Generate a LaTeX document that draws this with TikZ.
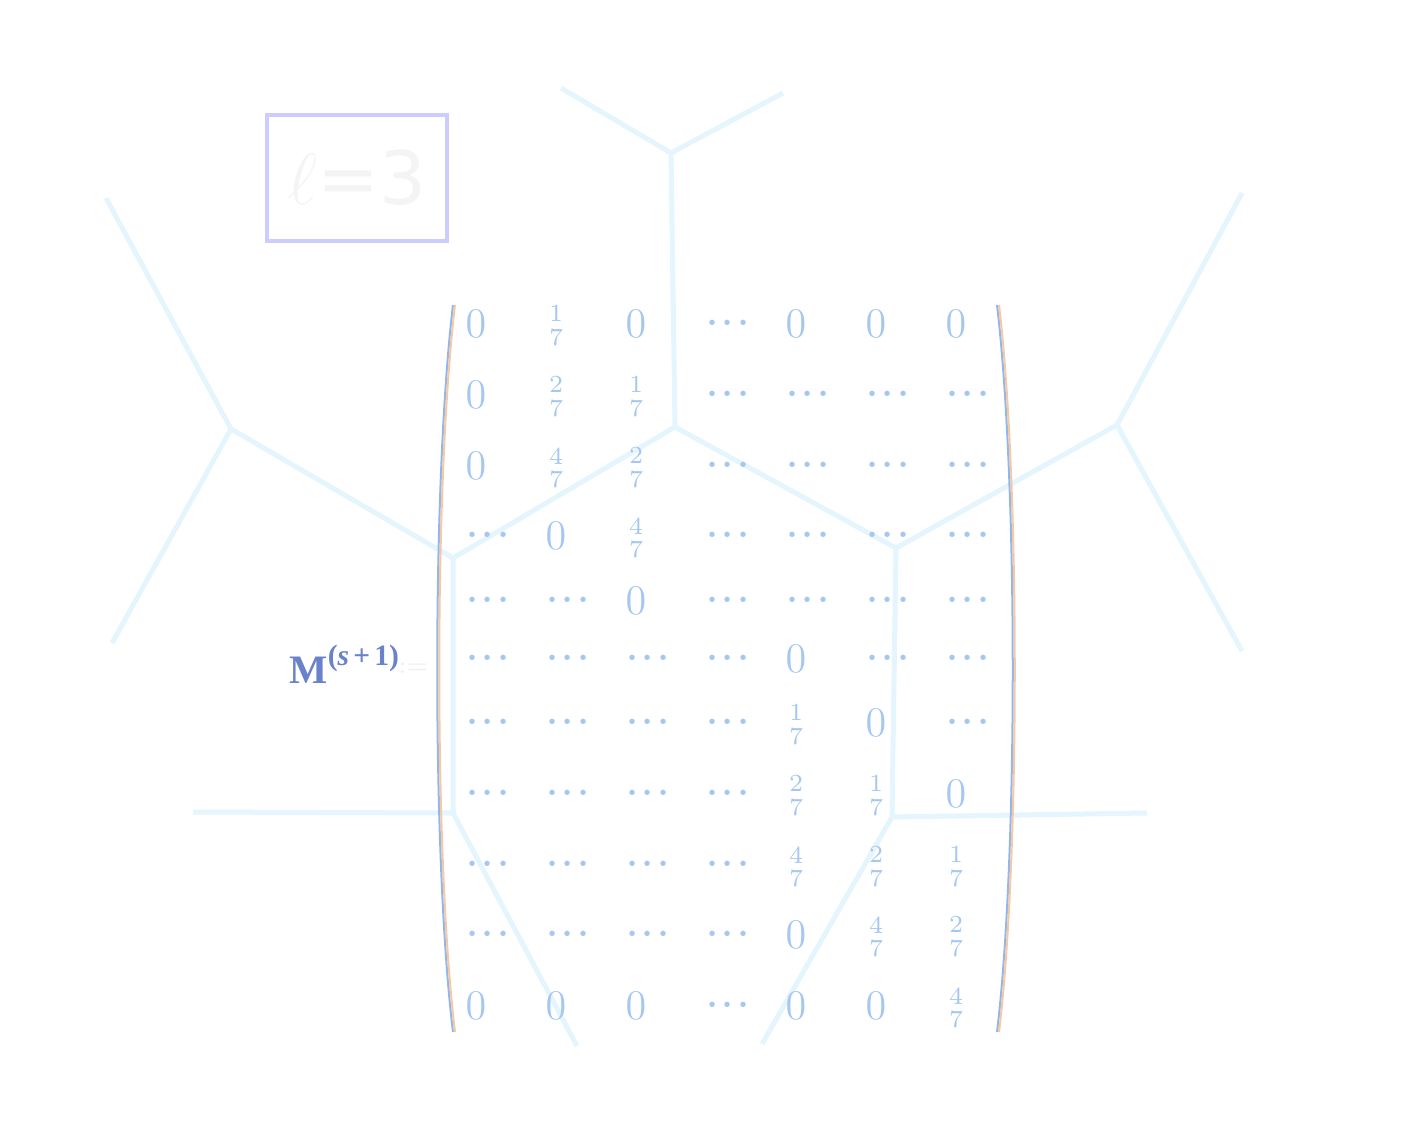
\documentclass[tikz,border=0pt]{standalone}
\usepackage{amsmath}
\usepackage{fontspec}
\newfontfamily\dejavu{DejaVu Sans}
\newfontfamily\tnr{Liberation Serif}
\definecolor{hexline}{HTML}{E4F5FD}
\definecolor{entry}{HTML}{A6C8F0}
\definecolor{parblue}{HTML}{8FB6F0}
\definecolor{parorange}{HTML}{F7C9A0}
\definecolor{mcol}{HTML}{6A82CB}
\definecolor{boxcol}{HTML}{CCCCFF}
\definecolor{elltext}{HTML}{F4F4F4}
\definecolor{assigncol}{HTML}{EEEEEE}
\newcommand\frs[1]{\vcenter{\hbox{\fontsize{7}{6.6}\selectfont\begin{tabular}{@{}c@{}}#1\\7\end{tabular}}}}
\newcommand\dts{\hbox{\fontsize{14}{14}\selectfont$\mathord{\cdot}\kern0.4pt\mathord{\cdot}\kern0.4pt\mathord{\cdot}$}}
\newcommand\mlab{{\tnr\bfseries M\raisebox{0.95ex}{\fontsize{8.4}{10}\selectfont(\textit{s}\kern1.2pt+\kern1.2pt1)}}}
\tikzset{
  hexedge/.style={draw=hexline, line width=0.5mm, line join=round},
  entrynode/.style={text=entry, inner sep=0pt, font={\fontsize{11.5}{14}\selectfont}},
  parenblue/.style={draw=parblue, line width=0.2mm},
  parenorange/.style={draw=parorange, line width=0.2mm},
}
\begin{document}
\begin{tikzpicture}[x=0.01cm,y=-0.01cm]
\useasboundingbox (0,0) rectangle (1418,1133);
% hexagonal cell lines
\coordinate (t1) at (561,88);
\coordinate (t2) at (783,93);
\coordinate (tc) at (671,153);
\coordinate (cc) at (675,427);
\coordinate (l1) at (106,198);
\coordinate (l2) at (112,643);
\coordinate (lc) at (231,429);
\coordinate (ml) at (453,558);
\coordinate (mr) at (896,548);
\coordinate (r1) at (1242,193);
\coordinate (r2) at (1242,651);
\coordinate (rc) at (1117,425);
\coordinate (bl) at (453,813);
\coordinate (br) at (892,817);
\coordinate (bl1) at (193,812);
\coordinate (bl2) at (577,1046);
\coordinate (br1) at (1147,813);
\coordinate (br2) at (762,1044);
\draw[hexedge] (t1) -- (tc) -- (t2);
\draw[hexedge] (tc) -- (cc);
\draw[hexedge] (ml) -- (cc) -- (mr);
\draw[hexedge] (l1) -- (lc) -- (l2);
\draw[hexedge] (lc) -- (ml) -- (bl);
\draw[hexedge] (r1) -- (rc) -- (r2);
\draw[hexedge] (rc) -- (mr) -- (br);
\draw[hexedge] (bl1) -- (bl) -- (bl2);
\draw[hexedge] (br1) -- (br) -- (br2);
% box with l=3
\node[draw=boxcol, line width=0.4mm, minimum width=1.8cm, minimum height=1.26cm, inner sep=0pt,
      text=elltext, font={\dejavu\fontsize{21}{26}\selectfont}] (lbox) at (357,178) {$\ell$=3};
% label
\node[text=mcol, inner sep=0pt, anchor=west, font={\fontsize{11.5}{14}\selectfont}] (mlabel) at (289,664) {\mlab};
\node[text=assigncol, inner sep=0pt, anchor=west, font={\fontsize{7}{9}\selectfont}] (assign) at (398,668) {$:=$};
% parentheses
\draw[parenblue] (453,305) .. controls (432,480) and (432,860) .. (453,1032);
\draw[parenorange] (455,305) .. controls (434,480) and (434,860) .. (455,1032);
\draw[parenblue] (997,305) .. controls (1018,480) and (1018,860) .. (997,1032);
\draw[parenorange] (999,305) .. controls (1020,480) and (1020,860) .. (999,1032);
% entries
\def\colxs{{476,556,636,716,796,876,956}}
\def\dd{D}
\def\ff{F}
\newcommand\mrow[3]{%
  \foreach \e/\v [count=\c] in {#3}{%
    \pgfmathsetmacro\xx{\colxs[\c-1]}%
    \ifx\e\dd
      \node[entrynode] (m-#1-\c) at (\xx+12,#2+1) {\dts};
    \else\ifx\e\ff
      \node[entrynode] (m-#1-\c) at (\xx,#2+6) {$\frs{\v}$};
    \else
      \node[entrynode] (m-#1-\c) at (\xx,#2+1) {$0$};
    \fi\fi
  }}
\mrow{1}{323}{Z/0,F/1,Z/0,D/0,Z/0,Z/0,Z/0}
\mrow{2}{394}{Z/0,F/2,F/1,D/0,D/0,D/0,D/0}
\mrow{3}{465}{Z/0,F/4,F/2,D/0,D/0,D/0,D/0}
\mrow{4}{535}{D/0,Z/0,F/4,D/0,D/0,D/0,D/0}
\mrow{5}{600}{D/0,D/0,Z/0,D/0,D/0,D/0,D/0}
\mrow{6}{658}{D/0,D/0,D/0,D/0,Z/0,D/0,D/0}
\mrow{7}{722}{D/0,D/0,D/0,D/0,F/1,Z/0,D/0}
\mrow{8}{793}{D/0,D/0,D/0,D/0,F/2,F/1,Z/0}
\mrow{9}{864}{D/0,D/0,D/0,D/0,F/4,F/2,F/1}
\mrow{10}{934}{D/0,D/0,D/0,D/0,Z/0,F/4,F/2}
\mrow{11}{1005}{Z/0,Z/0,Z/0,D/0,Z/0,Z/0,F/4}
\end{tikzpicture}
\end{document}
